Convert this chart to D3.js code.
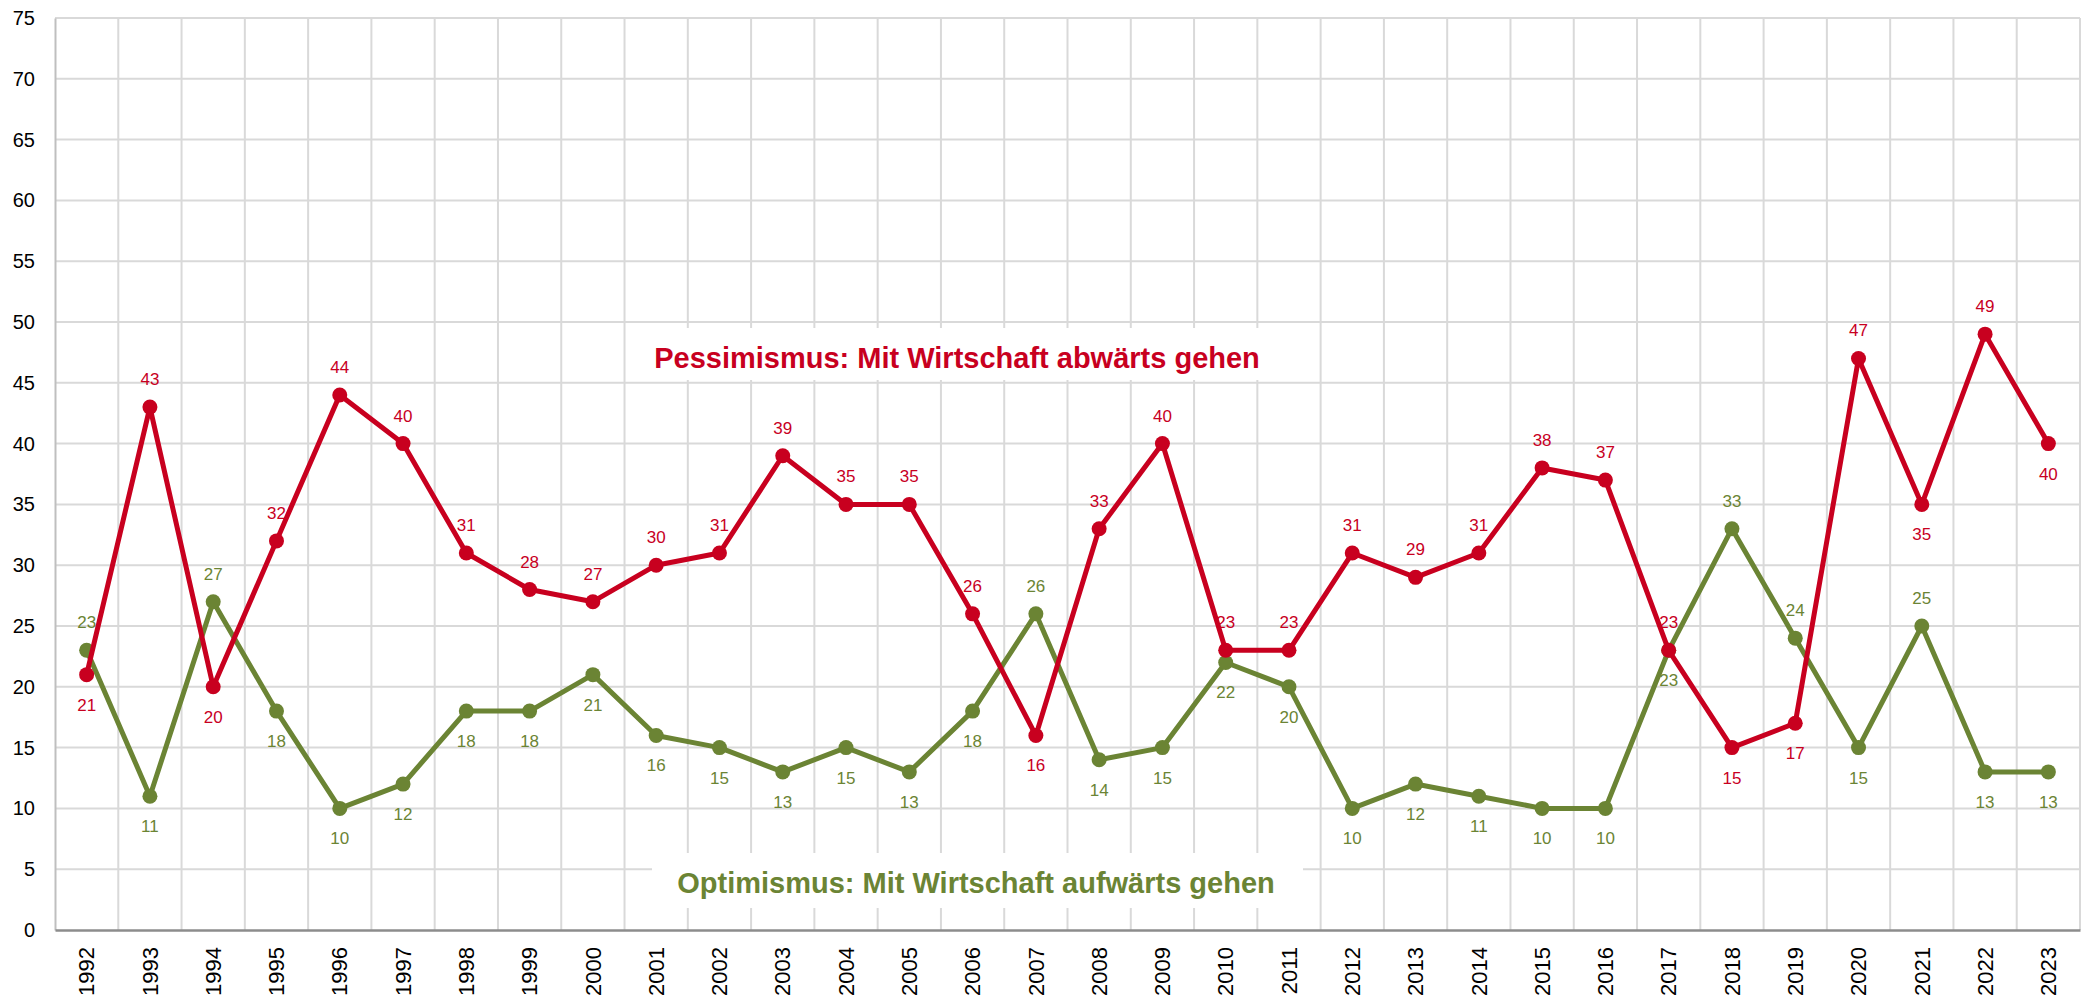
<!DOCTYPE html>
<html>
  <head>
    <meta charset="utf-8">
    <title>Pessimismus / Optimismus</title>
    <style>
      body { margin: 0; background: #fff; }
      text { font-family: "Liberation Sans", Arial, sans-serif; }
    </style>
    <script src="https://d3js.org/d3.v7.min.js"></script>
  </head>
  <body>
    <script type="text/javascript">
      var years = ["1992","1993","1994","1995","1996","1997","1998","1999","2000","2001","2002","2003","2004","2005","2006","2007",
                   "2008","2009","2010","2011","2012","2013","2014","2015","2016","2017","2018","2019","2020","2021","2022","2023"];
      var pessimismus = [21,43,20,32,44,40,31,28,27,30,31,39,35,35,26,16,33,40,23,23,31,29,31,38,37,23,15,17,47,35,49,40];
      var optimismus  = [23,11,27,18,10,12,18,18,21,16,15,13,15,13,18,26,14,15,22,20,10,12,11,10,10,23,33,24,15,25,13,13];
      // which side of the point the value label sits on: 1 = above, 0 = below
      var pessSide = [0,1,0,1,1,1,1,1,1,1,1,1,1,1,1,0,1,1,1,1,1,1,1,1,1,1,0,0,1,0,1,0];
      var optSide  = [1,0,1,0,0,0,0,0,0,0,0,0,0,0,0,1,0,0,0,0,0,0,0,0,0,0,1,1,0,1,0,0];
      var yTicks = d3.range(0, 80, 5);

      var red = "#c8001f", green = "#6b8434";
      var width = 2089, height = 1000;
      var margin = {top: 18, right: 9, bottom: 70, left: 55};

      var svg = d3.select("body").append("svg")
        .attr("width", width)
        .attr("height", height);

      var x = d3.scaleBand().domain(years)
        .range([margin.left, width - margin.right]);
      var y = d3.scaleLinear().domain([0, 75])
        .range([height - margin.bottom, margin.top]);

      // horizontal grid
      svg.append("g").selectAll("line").data(yTicks.slice(1)).enter().append("line")
        .attr("x1", margin.left).attr("x2", width - margin.right)
        .attr("y1", d => y(d)).attr("y2", d => y(d))
        .attr("stroke", "#d9d9d9").attr("stroke-width", 2);

      // vertical grid at category boundaries
      svg.append("g").selectAll("line").data(years.slice(1).concat(["end"])).enter().append("line")
        .attr("x1", (d, i) => margin.left + (i + 1) * x.bandwidth())
        .attr("x2", (d, i) => margin.left + (i + 1) * x.bandwidth())
        .attr("y1", y(75)).attr("y2", y(0))
        .attr("stroke", "#d9d9d9").attr("stroke-width", 2);

      // series label boxes (white background hides grid)
      svg.append("rect").attr("x", 632).attr("y", 328).attr("width", 650).attr("height", 52).attr("fill", "#fff");
      svg.append("rect").attr("x", 652).attr("y", 853).attr("width", 651).attr("height", 55).attr("fill", "#fff");

      // axes
      var yAxis = svg.append("g")
        .attr("transform", "translate(" + margin.left + ",0)")
        .call(d3.axisLeft(y).tickValues(yTicks).tickSize(0).tickPadding(20));
      yAxis.select(".domain").attr("stroke", "#bfbfbf").attr("stroke-width", 2);
      yAxis.selectAll("text").attr("font-size", "20px").attr("fill", "#000")
        .style("font-family", "'Liberation Sans', Arial, sans-serif");

      var xAxis = svg.append("g")
        .attr("transform", "translate(0," + y(0) + ")")
        .call(d3.axisBottom(x).tickSize(0).tickPadding(0));
      xAxis.select(".domain").attr("stroke", "#8c8c8c").attr("stroke-width", 2.5);
      xAxis.selectAll("text")
        .attr("font-size", "22px").attr("fill", "#000")
        .style("font-family", "'Liberation Sans', Arial, sans-serif")
        .attr("text-anchor", "end")
        .attr("dy", "0.35em")
        .attr("transform", "translate(0,17) rotate(-90)")
        .attr("y", 0).attr("x", 0);

      function drawSeries(values, sides, color) {
        var pts = values.map((v, i) => [x(years[i]) + x.bandwidth() / 2, y(v)]);
        svg.append("path")
          .attr("d", d3.line()(pts))
          .attr("fill", "none").attr("stroke", color)
          .attr("stroke-width", 5).attr("stroke-linejoin", "round");
        svg.append("g").selectAll("circle").data(pts).enter().append("circle")
          .attr("cx", d => d[0]).attr("cy", d => d[1]).attr("r", 7.5)
          .attr("fill", color);
        svg.append("g").selectAll("text").data(values).enter().append("text")
          .attr("x", (d, i) => pts[i][0])
          .attr("y", (d, i) => pts[i][1] + (sides[i] ? -22 : 36))
          .attr("text-anchor", "middle")
          .attr("font-size", "17px")
          .attr("fill", color)
          .text(d => d);
      }

      drawSeries(optimismus, optSide, green);
      drawSeries(pessimismus, pessSide, red);

      svg.append("text")
        .attr("x", 957).attr("y", 368)
        .attr("text-anchor", "middle")
        .attr("font-size", "29px").attr("font-weight", "bold")
        .attr("fill", red)
        .text("Pessimismus: Mit Wirtschaft abwärts gehen");

      svg.append("text")
        .attr("x", 976).attr("y", 893)
        .attr("text-anchor", "middle")
        .attr("font-size", "29px").attr("font-weight", "bold")
        .attr("fill", green)
        .text("Optimismus: Mit Wirtschaft aufwärts gehen");
    </script>
  </body>
</html>
